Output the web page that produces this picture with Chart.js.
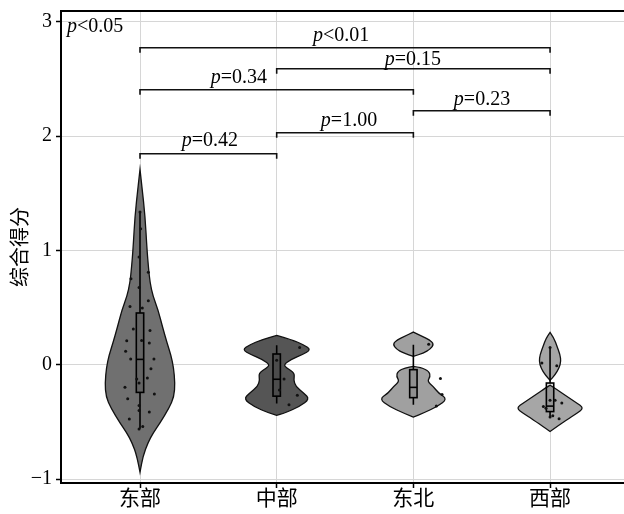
<!DOCTYPE html>
<html>
<head>
<meta charset="utf-8">
<script src="https://cdn.jsdelivr.net/npm/chart.js@4.4.1/dist/chart.umd.min.js"></script>
<style>
  html, body { margin: 0; padding: 0; background: #fff; }
</style>
</head>
<body>
<canvas id="chart" width="624" height="514"></canvas>
<script>
// violin + box plot of 综合得分 by region

const categories = ['东部', '中部', '东北', '西部'];
const yTicks = [-1, 0, 1, 2, 3];
const violinColors = ['#707070', '#555555', '#a0a0a0', '#a6a6a6'];

// violin outlines: score levels and half-widths (category units)
const eastLevels = [1.71, 1.55, 1.30, 1.01, 0.85, 0.72, 0.60, 0.48, 0.33, 0.19, 0.08, -0.02, -0.16, -0.28, -0.38, -0.51, -0.60, -0.68, -0.80, -0.94];
const eastWidths = [0, 0.015, 0.037, 0.051, 0.062, 0.073, 0.095, 0.132, 0.165, 0.198, 0.227, 0.245, 0.256, 0.249, 0.212, 0.146, 0.095, 0.059, 0.022, 0];
const centralLevels = [0.257, 0.219, 0.175, 0.131, 0.088, 0.044, 0.0, -0.029, -0.073, -0.131, -0.19, -0.248, -0.30, -0.365, -0.423, -0.443];
const centralWidths = [0, 0.110, 0.198, 0.252, 0.187, 0.102, 0.051, 0.073, 0.132, 0.124, 0.139, 0.198, 0.241, 0.168, 0.059, 0];
const northeastLevels = [0.286, 0.248, 0.219, 0.181, 0.137, 0.102, 0.073, -0.015, -0.025, -0.058, -0.102, -0.146, -0.19, -0.248, -0.30, -0.365, -0.423, -0.458];
const northeastWidths = [0, 0.066, 0.117, 0.151, 0.124, 0.073, 0, 0, 0.059, 0.115, 0.124, 0.102, 0.146, 0.183, 0.249, 0.176, 0.073, 0];
const westLevels = [0.283, 0.233, 0.16, 0.088, 0.029, -0.029, -0.088, -0.137, -0.18, -0.195, -0.277, -0.33, -0.379, -0.43, -0.481, -0.584];
const westWidths = [0, 0.029, 0.051, 0.073, 0.080, 0.066, 0.037, 0, 0, 0.022, 0.124, 0.190, 0.249, 0.190, 0.124, 0];

// box plot stats
const whiskerLow = [-0.56, -0.34, -0.35, -0.465];
const q1 = [-0.242, -0.275, -0.288, -0.41];
const median = [0.047, -0.127, -0.198, -0.362];
const q3 = [0.453, 0.094, -0.043, -0.16];
const whiskerHigh = [1.34, 0.17, 0.175, 0.15];

// individual observations (score) and their jitter offset
const eastScores = [1.337, 1.19, 0.943, 0.81, 0.753, 0.677, 0.51, 0.56, 0.496, 0.312, 0.30, 0.21, 0.213, 0.19, 0.117, 0.05, 0.05, -0.035, -0.125, -0.117, -0.16, -0.198, -0.257, -0.298, -0.356, -0.40, -0.414, -0.475, -0.54, -0.563];
const eastJitter = [0, 0.005, -0.007, 0.061, -0.066, -0.007, -0.073, 0.061, 0.017, -0.049, 0.073, -0.097, 0.012, 0.068, -0.105, -0.068, 0.102, 0.080, -0.024, 0.054, -0.007, -0.110, 0.105, -0.09, -0.007, -0.007, 0.068, -0.078, 0.02, -0.007];
const centralScores = [0.152, 0.04, -0.125, -0.22, -0.268, -0.35];
const centralJitter = [0.168, 0.0, 0.054, 0.02, 0.151, 0.09];
const northeastScores = [0.18, -0.12, -0.26, -0.36];
const northeastJitter = [0.112, 0.198, 0.21, 0.168];
const westScores = [0.15, 0.015, -0.009, -0.31, -0.31, -0.335, -0.365, -0.38, -0.446, -0.458, -0.473];
const westJitter = [0, -0.06, 0.049, 0, 0.037, 0.086, -0.049, -0.03, 0.02, 0, 0.066];

// pairwise comparisons
const pairFrom = [0, 1, 2, 0, 1, 0];
const pairTo = [1, 2, 3, 2, 3, 3];
const pairY = [1.847, 2.031, 2.223, 2.407, 2.591, 2.775];
const pairLabel = ['=0.42', '=1.00', '=0.23', '=0.34', '=0.15', '<0.01'];
const pairLabelX = [0.512, 1.529, 2.502, 0.724, 1.997, 1.471];
const pairLabelY = [1.917, 2.086, 2.276, 2.466, 2.626, 2.83];
const globalLabel = '<0.05';
const globalLabelX = -0.534;
const globalLabelY = 2.91;

const violinLevels = [eastLevels, centralLevels, northeastLevels, westLevels];
const violinWidths = [eastWidths, centralWidths, northeastWidths, westWidths];
const scores = [eastScores, centralScores, northeastScores, westScores];
const jitters = [eastJitter, centralJitter, northeastJitter, westJitter];

const SERIF = '"Liberation Serif", "Times New Roman", serif';
const CJK = '"Noto Sans CJK SC", sans-serif';

// smooth open curve through pts (passes through both ends)
function smoothTo(ctx, pts) {
  for (let i = 1; i < pts.length - 1; i++) {
    const mx = (pts[i][0] + pts[i + 1][0]) / 2;
    const my = (pts[i][1] + pts[i + 1][1]) / 2;
    ctx.quadraticCurveTo(pts[i][0], pts[i][1], mx, my);
  }
  const last = pts[pts.length - 1];
  ctx.lineTo(last[0], last[1]);
}

function splitPieces(levels, widths) {
  const pieces = [];
  let cur = [];
  for (let i = 0; i < levels.length; i++) {
    cur.push(i);
    if (widths[i] === 0 && cur.length > 1) {
      if (cur.some(j => widths[j] > 0)) pieces.push(cur);
      cur = [i];
    }
  }
  return pieces;
}

const violinPlugin = {
  id: 'violins',
  beforeDatasetsDraw(chart) {
    const { ctx, chartArea, scales: { x, y } } = chart;
    ctx.save();
    // top frame line
    ctx.strokeStyle = '#000';
    ctx.lineWidth = 2;
    ctx.beginPath();
    ctx.moveTo(chartArea.left, chartArea.top);
    ctx.lineTo(chartArea.right, chartArea.top);
    ctx.stroke();

    categories.forEach((c, g) => {
      const levels = violinLevels[g];
      const widths = violinWidths[g];
      splitPieces(levels, widths).forEach(idx => {
        const right = idx.map(i => [x.getPixelForValue(g + widths[i]), y.getPixelForValue(levels[i])]);
        const left = idx.slice().reverse().map(i => [x.getPixelForValue(g - widths[i]), y.getPixelForValue(levels[i])]);
        ctx.beginPath();
        ctx.moveTo(right[0][0], right[0][1]);
        smoothTo(ctx, right);
        smoothTo(ctx, left);
        ctx.closePath();
        ctx.fillStyle = violinColors[g];
        ctx.fill();
        ctx.lineWidth = 1.3;
        ctx.strokeStyle = '#111';
        ctx.stroke();
      });

      // box and whiskers
      const cx = x.getPixelForValue(g);
      const half = x.getPixelForValue(g + 0.027) - cx;
      ctx.lineWidth = 1.6;
      ctx.strokeStyle = '#000';
      ctx.beginPath();
      ctx.moveTo(cx, y.getPixelForValue(whiskerHigh[g]));
      ctx.lineTo(cx, y.getPixelForValue(q3[g]));
      ctx.moveTo(cx, y.getPixelForValue(q1[g]));
      ctx.lineTo(cx, y.getPixelForValue(whiskerLow[g]));
      ctx.stroke();
      const top = y.getPixelForValue(q3[g]);
      const bot = y.getPixelForValue(q1[g]);
      ctx.fillStyle = 'rgba(0,0,0,0.1)';
      ctx.fillRect(cx - half, top, half * 2, bot - top);
      ctx.strokeRect(cx - half, top, half * 2, bot - top);
      ctx.beginPath();
      ctx.moveTo(cx - half, y.getPixelForValue(median[g]));
      ctx.lineTo(cx + half, y.getPixelForValue(median[g]));
      ctx.stroke();
    });
    ctx.restore();
  },
  afterDatasetsDraw(chart) {
    const { ctx, scales: { x, y } } = chart;
    ctx.save();
    ctx.strokeStyle = '#111';
    ctx.lineWidth = 1.6;
    pairFrom.forEach((a, i) => {
      const x1 = x.getPixelForValue(a);
      const x2 = x.getPixelForValue(pairTo[i]);
      const py = y.getPixelForValue(pairY[i]);
      ctx.beginPath();
      ctx.moveTo(x1, py + 5);
      ctx.lineTo(x1, py);
      ctx.lineTo(x2, py);
      ctx.lineTo(x2, py + 5);
      ctx.stroke();
      drawP(ctx, pairLabel[i], x.getPixelForValue(pairLabelX[i]), y.getPixelForValue(pairLabelY[i]), 'center');
    });
    drawP(ctx, globalLabel, x.getPixelForValue(globalLabelX), y.getPixelForValue(globalLabelY), 'left');
    ctx.restore();
  }
};

function drawP(ctx, rest, px, baseline, align) {
  ctx.fillStyle = '#000';
  ctx.textBaseline = 'alphabetic';
  ctx.textAlign = 'left';
  ctx.font = 'italic 20px ' + SERIF;
  const w1 = ctx.measureText('p').width;
  ctx.font = '20px ' + SERIF;
  const w2 = ctx.measureText(rest).width;
  const x0 = align === 'center' ? px - (w1 + w2) / 2 : px;
  ctx.font = 'italic 20px ' + SERIF;
  ctx.fillText('p', x0, baseline);
  ctx.font = '20px ' + SERIF;
  ctx.fillText(rest, x0 + w1, baseline);
}

const datasets = categories.map((c, g) => ({
  label: c,
  data: scores[g].map((v, i) => ({ x: g + jitters[g][i], y: v })),
  pointRadius: 1.5,
  pointHoverRadius: 1.5,
  pointBackgroundColor: '#111',
  pointBorderWidth: 0,
  showLine: false
}));

new Chart(document.getElementById('chart'), {
  type: 'scatter',
  data: { datasets },
  plugins: [violinPlugin],
  options: {
    responsive: false,
    devicePixelRatio: 1,
    animation: false,
    layout: { autoPadding: false, padding: { top: 11, right: 0, left: 0, bottom: 0 } },
    plugins: { legend: { display: false }, tooltip: { enabled: false } },
    scales: {
      x: {
        type: 'linear',
        min: -0.578,
        max: 3.541,
        afterBuildTicks: s => { s.ticks = categories.map((c, i) => ({ value: i })); },
        afterFit: s => { s.height = 31; s.paddingLeft = 0; s.paddingRight = 0; },
        ticks: {
          color: '#000',
          font: { family: CJK, size: 21 },
          padding: -4,
          maxRotation: 0,
          callback: v => categories[v]
        },
        grid: { color: '#d6d6d6', lineWidth: 1, tickColor: '#000', tickLength: 5, tickWidth: 1.5 },
        border: { display: true, color: '#000', width: 2 }
      },
      y: {
        min: -1.035,
        max: 3.096,
        afterBuildTicks: s => { s.ticks = yTicks.map(v => ({ value: v })); },
        afterFit: s => { s.width = 61; s.paddingTop = 0; s.paddingBottom = 0; },
        ticks: {
          color: '#000',
          font: { family: SERIF, size: 20 },
          padding: 4,
          callback: v => v < 0 ? '\u2212' + Math.abs(v) : String(v)
        },
        grid: { color: '#d6d6d6', lineWidth: 1, tickColor: '#000', tickLength: 5, tickWidth: 1.5 },
        border: { display: true, color: '#000', width: 2 },
        title: {
          display: true,
          text: '综合得分',
          color: '#000',
          font: { family: CJK, size: 20 },
          padding: { top: 7, bottom: 0 }
        }
      }
    }
  }
});
</script>
</body>
</html>
